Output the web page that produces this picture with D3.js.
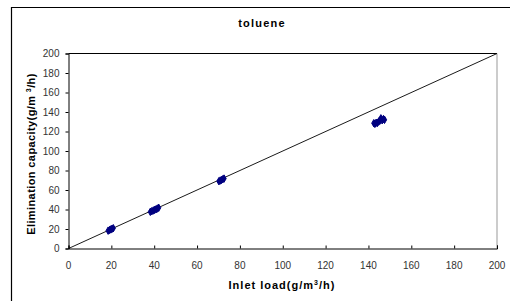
<!DOCTYPE html>
<html>
<head>
<meta charset="utf-8">
<script src="https://cdn.jsdelivr.net/npm/d3@7"></script>
<style>
  body { margin: 0; background: #fff; }
  svg { display: block; font-family: "Liberation Sans", Arial, sans-serif; }
</style>
</head>
<body>
<svg id="chart" width="510" height="302"></svg>
<script>
// toluene: inlet load vs elimination capacity

const title = 'toluene';
const xTicks = [0, 20, 40, 60, 80, 100, 120, 140, 160, 180, 200];
const yTicks = [0, 20, 40, 60, 80, 100, 120, 140, 160, 180, 200];

// measured points (inlet load, elimination capacity)
const inletLoad = [18.5, 19.2, 19.8, 20.3, 20.9, 38.2, 38.9, 39.6, 40.2, 40.9, 41.5, 42.1,
    70.2, 70.8, 71.4, 72.0, 72.6, 142.5, 143.0, 143.6, 144.2, 144.8, 145.3, 145.8, 146.4, 147.0, 147.5];
const elimCap = [18.3, 19.0, 19.6, 20.2, 20.8, 37.6, 38.3, 39.0, 39.6, 40.3, 41.0, 41.8,
    69.0, 69.7, 70.3, 71.0, 71.7, 128.5, 127.8, 129.0, 128.8, 130.3, 131.0, 133.5, 131.5, 132.8, 132.0];

// 1:1 line
const lineX = [0, 200];
const lineY = [0, 200];

const svg = d3.select('#chart');
const m = { left: 68.5, right: 497, top: 53.5, bottom: 248.5 };

const x = d3.scaleLinear().domain([0, 200]).range([m.left, m.right]);
const y = d3.scaleLinear().domain([0, 200]).range([m.bottom, m.top]);

// outer frame
svg.append('path')
    .attr('d', `M511,7.5 H11.5 V301`)
    .attr('fill', 'none')
    .attr('stroke', '#000')
    .attr('stroke-width', 1.2);

// plot area border
svg.append('line')
    .attr('x1', m.left).attr('x2', m.right)
    .attr('y1', m.top).attr('y2', m.top)
    .attr('stroke', '#000');
svg.append('line')
    .attr('x1', m.right).attr('x2', m.right)
    .attr('y1', m.top).attr('y2', m.bottom)
    .attr('stroke', '#999');

// axes
const xAxis = svg.append('g')
    .attr('transform', `translate(0,${m.bottom})`)
    .call(d3.axisTop(x).tickValues(xTicks).tickSize(3).tickFormat(''));
xAxis.select('.domain').attr('stroke', '#000');

svg.append('g')
    .selectAll('text')
    .data(xTicks)
    .enter().append('text')
    .attr('x', d => x(d))
    .attr('y', m.bottom + 20)
    .attr('text-anchor', 'middle')
    .attr('font-size', 10)
    .attr('fill', '#333')
    .text(d => d);

const yAxis = svg.append('g')
    .attr('transform', `translate(${m.left},0)`)
    .call(d3.axisLeft(y).tickValues(yTicks).tickSize(3).tickPadding(6));
yAxis.select('.domain').attr('stroke', '#000');
yAxis.selectAll('text').attr('font-size', 10).attr('fill', '#333')
    .attr('font-family', '"Liberation Sans", Arial, sans-serif');

// 1:1 line
svg.append('path')
    .datum(lineX.map((d, i) => [d, lineY[i]]))
    .attr('d', d3.line().x(d => x(d[0])).y(d => y(d[1])))
    .attr('fill', 'none')
    .attr('stroke', '#000')
    .attr('stroke-width', 0.9);

// data markers
svg.append('g')
    .selectAll('path')
    .data(inletLoad.map((d, i) => [d, elimCap[i]]))
    .enter().append('path')
    .attr('transform', d => `translate(${x(d[0])},${y(d[1])})`)
    .attr('d', d3.symbol(d3.symbolDiamond, 16))
    .attr('fill', '#000080')
    .attr('stroke', '#000080')
    .attr('stroke-width', 1);

// titles
svg.append('text')
    .attr('x', 262).attr('y', 27)
    .attr('text-anchor', 'middle')
    .attr('font-size', 11).attr('font-weight', 'bold')
    .attr('letter-spacing', 1.2)
    .text(title);

const xt = svg.append('text')
    .attr('x', 282).attr('y', 289)
    .attr('text-anchor', 'middle')
    .attr('font-size', 11).attr('font-weight', 'bold')
    .attr('letter-spacing', 1);
xt.append('tspan').text('Inlet load(g/m');
xt.append('tspan').attr('font-size', 7).attr('dy', -4).text('3');
xt.append('tspan').attr('dy', 4).text('/h)');

const yt = svg.append('text')
    .attr('transform', 'translate(35,154) rotate(-90)')
    .attr('text-anchor', 'middle')
    .attr('font-size', 11).attr('font-weight', 'bold')
    .attr('letter-spacing', 0.4);
yt.append('tspan').text('Elimination capacity(g/m ');
yt.append('tspan').attr('font-size', 7).attr('dy', -4).text('3');
yt.append('tspan').attr('dy', 4).text('/h)');
</script>
</body>
</html>
